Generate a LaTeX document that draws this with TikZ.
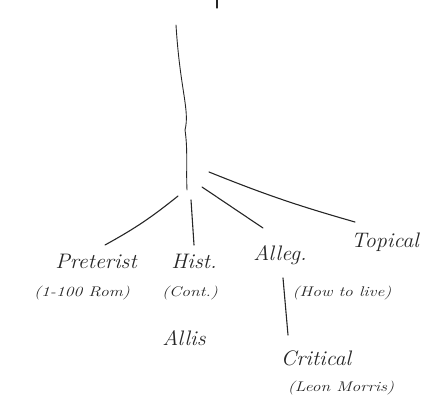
\documentclass[tikz,border=0pt]{standalone}
\usepackage{graphicx}
\newcommand{\wideA}[1]{\scalebox{1.05}[1]{#1}}
\newcommand{\wideB}[1]{\scalebox{1.25}[1]{#1}}
\begin{document}
\begin{tikzpicture}[x=1pt,y=-1pt,
  ink/.style={draw=black!85, line width=1.1pt, line cap=round},
  lbl/.style={inner sep=1pt, text=black!85, font=\itshape\fontsize{21}{23}\selectfont},
  sub/.style={inner sep=1pt, text=black!85, font=\itshape\fontsize{14}{16}\selectfont}]
\useasboundingbox (0,0) rectangle (439,407);
% top tick
\coordinate (tk1) at (217,0);
\coordinate (tk2) at (217,8);
\draw[ink] (tk1) -- (tk2);
% trunk
\coordinate (top) at (176,25);
\coordinate (fork) at (187,190);
\draw[ink, line width=0.9pt] (top) .. controls (180,90) and (190,110) .. (185,130) .. controls (188,150) and (186,170) .. (fork);
% branch starts
\coordinate (bP) at (178,196);
\coordinate (bH) at (191,200);
\coordinate (bA) at (202,187);
\coordinate (bT) at (209,172);
% labels
\node[lbl] (pret) at (96,261) {\wideA{Preterist}};
\node[sub] (pretS) at (82,293) {\wideB{(1-100 Rom)}};
\node[lbl] (hist) at (194,261) {\wideA{Hist.}};
\node[sub] (histS) at (190,293) {\wideB{(Cont.)}};
\node[lbl] (allis) at (184,338) {\wideA{Allis}};
\node[lbl] (alleg) at (280,255) {\wideA{Alleg.}};
\node[lbl] (topi) at (385,242) {\wideA{Topical}};
\node[sub] (how) at (342,293) {\wideB{(How to live)}};
\node[lbl] (crit) at (316,358) {\wideA{Critical}};
\node[sub] (leon) at (341,388) {\wideB{(Leon Morris)}};
\coordinate (aTop) at (283,278);
\coordinate (aBot) at (288,335);
% connectors
\draw[ink] (bP) to[bend left=5] (105,245) coordinate (eP);
\draw[ink] (bH) -- (194,245) coordinate (eH);
\draw[ink] (bA) -- (263,228) coordinate (eA);
\draw[ink] (bT) to[bend right=3] (355,222) coordinate (eT);
\draw[ink] (aTop) -- (aBot);
\end{tikzpicture}
\end{document}
